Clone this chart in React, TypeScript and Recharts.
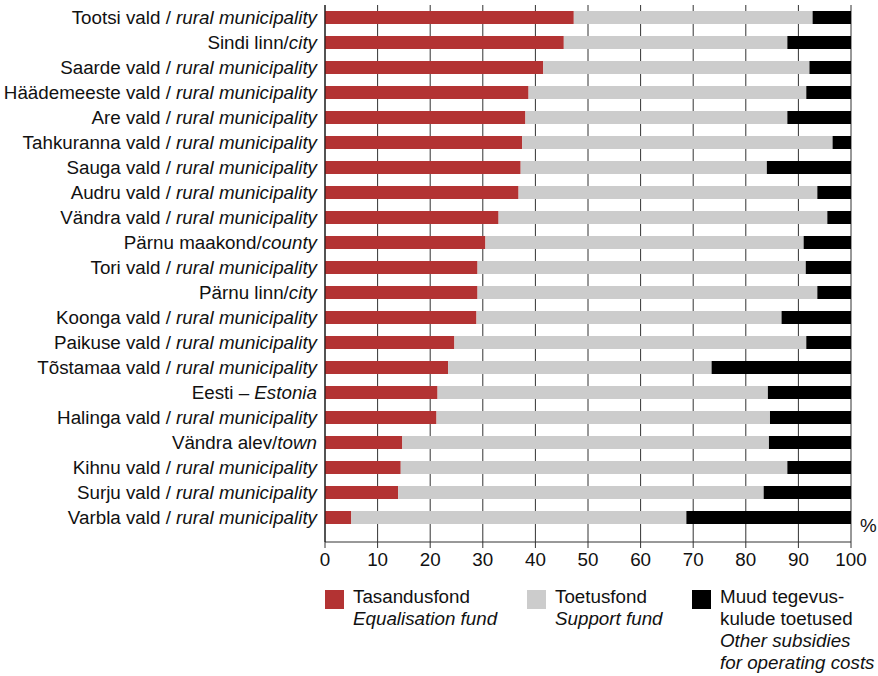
import React from 'react';
import { BarChart, Bar, XAxis, YAxis, CartesianGrid } from 'recharts';

const places = [
  'Tootsi vald / ', 'Sindi linn/', 'Saarde vald / ', 'Häädemeeste vald / ', 'Are vald / ',
  'Tahkuranna vald / ', 'Sauga vald / ', 'Audru vald / ', 'Vändra vald / ', 'Pärnu maakond/',
  'Tori vald / ', 'Pärnu linn/', 'Koonga vald / ', 'Paikuse vald / ', 'Tõstamaa vald / ',
  'Eesti – ', 'Halinga vald / ', 'Vändra alev/', 'Kihnu vald / ', 'Surju vald / ', 'Varbla vald / ',
];
const RM = 'rural municipality';
const placesEn = [
  RM, 'city', RM, RM, RM, RM, RM, RM, RM, 'county', RM, 'city', RM, RM, RM,
  'Estonia', RM, 'town', RM, RM, RM,
];
const equalisation = [47.3, 45.4, 41.5, 38.7, 38.1, 37.5, 37.2, 36.8, 33.0, 30.5, 29.0, 29.0, 28.8, 24.6, 23.4, 21.4, 21.2, 14.7, 14.4, 13.9, 5.0];
const support = [45.4, 42.5, 50.6, 52.8, 49.8, 59.0, 46.8, 56.8, 62.5, 60.5, 62.4, 64.6, 58.0, 66.9, 50.1, 62.8, 63.4, 69.7, 73.5, 69.5, 63.7];
const other = [7.3, 12.1, 7.9, 8.5, 12.1, 3.5, 16.0, 6.4, 4.5, 9.0, 8.6, 6.4, 13.2, 8.5, 26.5, 15.8, 15.4, 15.6, 12.1, 16.6, 31.3];
const xTicks = [0, 10, 20, 30, 40, 50, 60, 70, 80, 90, 100];

const data = places.map((p, i) => ({
  name: String(i),
  equalisation: equalisation[i],
  support: support[i],
  other: other[i],
}));

const FONT = '"Liberation Sans", Arial, sans-serif';
const FS = 18.8;

const CategoryTick = (props: any) => {
  const { x, y, payload } = props;
  const i = Number(payload.value);
  return (
    <text x={x} y={y} dy={6.5} textAnchor="end" fontFamily={FONT} fontSize={FS} fill="#111">
      <tspan>{places[i]}</tspan>
      <tspan fontStyle="italic">{placesEn[i]}</tspan>
    </text>
  );
};

const ValueTick = (props: any) => {
  const { x, y, payload } = props;
  return (
    <text x={x} y={y} dy={16} textAnchor="middle" fontFamily={FONT} fontSize={FS} fill="#111">
      {payload.value}
    </text>
  );
};

const legendItems = [
  { color: '#b33333', lines: ['Tasandusfond'], italic: ['Equalisation fund'], x: 325 },
  { color: '#cccccc', lines: ['Toetusfond'], italic: ['Support fund'], x: 527 },
  { color: '#000000', lines: ['Muud tegevus-', 'kulude toetused'], italic: ['Other subsidies', 'for operating costs'], x: 692 },
];

export default function App() {
  return (
    <div style={{ position: 'absolute', left: 0, top: 0, width: 878, height: 676, background: '#fff' }}>
      <BarChart
        width={878}
        height={580}
        data={data}
        layout="vertical"
        margin={{ top: 5, right: 27, bottom: 8, left: 0 }}
        barCategoryGap={12}
      >
        <CartesianGrid horizontal={false} stroke="#333" strokeWidth={1} />
        <XAxis
          type="number"
          domain={[0, 100]}
          ticks={xTicks}
          interval={0}
          axisLine={{ stroke: '#333' }}
          tickLine={{ stroke: '#333' }}
          tickSize={6}
          tick={<ValueTick />}
          height={30}
        />
        <YAxis
          type="category"
          dataKey="name"
          width={325}
          padding={{ top: 0, bottom: 12 }}
          axisLine={{ stroke: '#111' }}
          tickLine={false}
          tick={<CategoryTick />}
          interval={0}
        />
        <Bar dataKey="equalisation" stackId="a" fill="#b33333" barSize={13} isAnimationActive={false} />
        <Bar dataKey="support" stackId="a" fill="#cccccc" barSize={13} isAnimationActive={false} />
        <Bar dataKey="other" stackId="a" fill="#000000" barSize={13} isAnimationActive={false} />
        <text x={860} y={532} fontFamily={FONT} fontSize={FS} fill="#111">%</text>
      </BarChart>
      <div style={{ position: 'absolute', left: 0, top: 586, width: 878, height: 90, fontFamily: FONT, fontSize: FS, color: '#111' }}>
        {legendItems.map((it) => (
          <div key={it.x} style={{ position: 'absolute', left: it.x, top: 0 }}>
            <div style={{ position: 'absolute', left: 0, top: 4, width: 19, height: 19, background: it.color }} />
            <div style={{ position: 'absolute', left: 28, top: 0, lineHeight: '22px', whiteSpace: 'nowrap' }}>
              {it.lines.map((l) => <div key={l}>{l}</div>)}
              {it.italic.map((l) => <div key={l} style={{ fontStyle: 'italic' }}>{l}</div>)}
            </div>
          </div>
        ))}
      </div>
    </div>
  );
}
